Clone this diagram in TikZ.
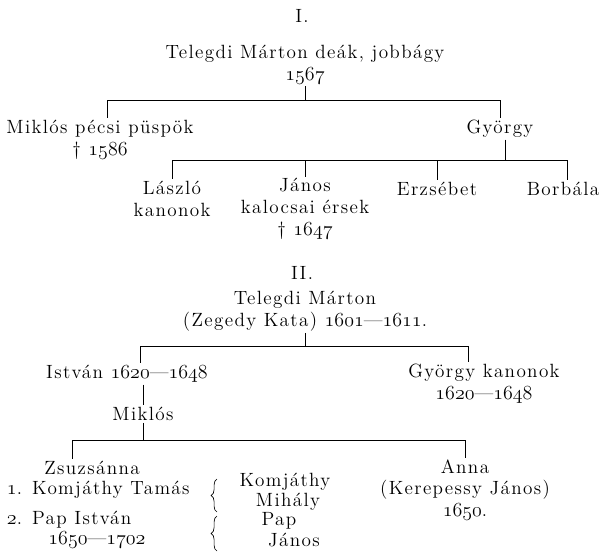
\documentclass[tikz,border=0pt]{standalone}
\usepackage{fontspec}
\setmainfont{Latin Modern Roman}
\usetikzlibrary{positioning,calc,decorations.pathreplacing}
\newcommand{\evszam}[1]{{\usefont{OML}{cmm}{m}{it}#1}}
\begin{document}
\begin{tikzpicture}[x=0.6pt,y=-0.6pt,nev/.style={inner sep=1pt,font=\fontsize{11.5}{13}\selectfont\addfontfeatures{LetterSpace=7},align=center},kapocs/.style={decorate,decoration={brace,amplitude=3.5pt}}]
		\useasboundingbox (0,0) rectangle (605,552);
		\node[nev] (cim1) at (302,16) {I.};
		\node[nev] (marton1) at (305,65) {Telegdi Márton deák, jobbágy\\ \evszam{1567}};
		\node[nev] (mikpecs) at (100,140) {Miklós pécsi püspök\\ \dag\ \evszam{1586}};
		\node[nev] (gyorgy1) at (500,129) {György};
		\node[nev] (laszlo) at (172,199) {László\\kanonok};
		\node[nev] (janos) at (305,209) {János\\kalocsai érsek\\ \dag\ \evszam{1647}};
		\node[nev] (erzsebet) at (437,189) {Erzsébet};
		\node[nev] (borbala) at (563,189) {Borbála};
		\coordinate (b1l) at (107,100);
		\coordinate (b1r) at (500,100);
		\coordinate (b2l) at (172,160);
		\coordinate (b2m) at (505,160);
		\coordinate (b2r) at (567,160);
		\draw (marton1) -- (marton1 |- b1l);
		\draw (b1l) -- (b1r);
		\draw (b1l) -- (b1l |- mikpecs.north);
		\draw (b1r) -- (gyorgy1);
		\draw (b2m |- gyorgy1.south) -- (b2m);
		\draw (b2l) -- (b2r);
		\draw (b2l) -- (laszlo);
		\draw (janos |- b2l) -- (janos);
		\draw (erzsebet |- b2l) -- (erzsebet);
		\draw (b2r) -- (b2r |- borbala.north);
		\node[nev] (cim2) at (302,273) {II.};
		\node[nev] (marton2) at (305,311) {Telegdi Márton\\ (Zegedy Kata) \evszam{1601}—\evszam{1611}.};
		\node[nev] (istvan) at (127,374) {István \evszam{1620}—\evszam{1648}};
		\node[nev] (gyorgy2) at (484,384) {György kanonok\\ \evszam{1620}—\evszam{1648}};
		\node[nev] (miklos) at (143,414) {Miklós};
		\node[nev] (zsuzsa) at (92,468) {Zsuzsánna};
		\node[nev] (anna) at (465,490) {Anna\\(Kerepessy János)\\ \evszam{1650}.};
		\node[nev,anchor=west] (ferj1) at (5,490) {\evszam{1}. Komjáthy Tamás};
		\node[nev,anchor=west] (ferj2) at (5,520) {\evszam{2}. Pap István};
		\node[nev] (ferj2ev) at (97,540) {\evszam{1650}—\evszam{1702}};
		\node[nev] (gyerek1a) at (285,482) {Komjáthy};
		\node[nev] (gyerek1b) at (288,502) {Mihály};
		\node[nev] (gyerek2a) at (279,521) {Pap};
		\node[nev] (gyerek2b) at (294,540) {János};
		\coordinate (b3l) at (140,346);
		\coordinate (b3r) at (468,346);
		\coordinate (b4l) at (72,440);
		\coordinate (b4r) at (465,440);
		\coordinate (k1a) at (217,512);
		\coordinate (k1b) at (217,479);
		\coordinate (k2a) at (217,551);
		\coordinate (k2b) at (217,516);
		\draw (marton2) -- (marton2 |- b3l);
		\draw (b3l) -- (b3r);
		\draw (b3l) -- (b3l |- istvan.north);
		\draw (b3r) -- (b3r |- gyorgy2.north);
		\draw (miklos |- istvan.south) -- (miklos);
		\draw (miklos) -- (miklos |- b4l);
		\draw (b4l) -- (b4r);
		\draw (b4l) -- (b4l |- zsuzsa.north);
		\draw (b4r) -- (anna);
		\draw[kapocs] (k1a) -- (k1b);
		\draw[kapocs] (k2a) -- (k2b);
	\end{tikzpicture}
\end{document}
